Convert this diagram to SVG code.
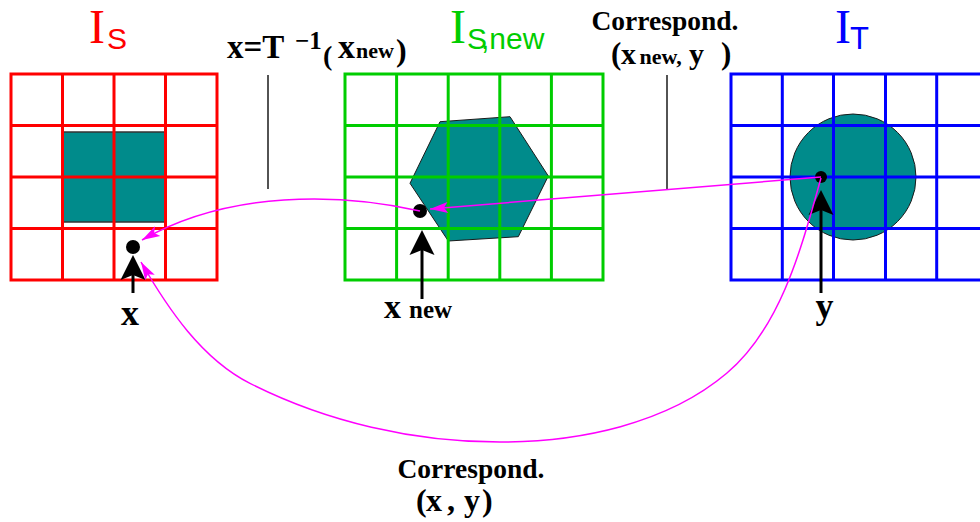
<svg xmlns="http://www.w3.org/2000/svg" width="980" height="522" viewBox="0 0 980 522">
<style>
.bg{fill:#ffffff}
.gr{fill:none;stroke:#ff0000;stroke-width:3}
.gg{fill:none;stroke:#00cd00;stroke-width:3}
.gb{fill:none;stroke:#0000ff;stroke-width:3}
.teal{fill:#008b8b;stroke:#1a1a1a;stroke-width:1}
.dot{fill:#000000}
.blk{stroke:#000000;stroke-width:3;fill:none}
.sep{stroke:#1a1a1a;stroke-width:1.5;fill:none}
.mag{stroke:#ff00ff;stroke-width:1.5;fill:none}
.ser{font-family:"Liberation Serif","Times New Roman",serif;font-weight:bold;fill:#000000}
.titI{font-family:"Liberation Serif","Times New Roman",serif;font-size:48px}
.titS{font-family:"Liberation Sans",Arial,sans-serif;font-size:30px}
</style>
<defs>
<marker id="ah" viewBox="-6 -13 27 26" markerWidth="27" markerHeight="26" refX="0" refY="0" markerUnits="userSpaceOnUse" orient="auto">
<path d="M20,0 L-5,-12.5 L0,0 L-5,12.5 Z" fill="#000000"/>
</marker>
<marker id="am" viewBox="-20 -7 22 14" markerWidth="22" markerHeight="14" refX="0" refY="0" markerUnits="userSpaceOnUse" orient="auto">
<path d="M0,0 L-18,-5.5 L-14,0 L-18,5.5 Z" fill="#ff00ff"/>
</marker>
</defs>
<rect class="bg" x="0" y="0" width="980" height="522"/>

<g id="node-IS">
<rect class="teal" x="63" y="132" width="102" height="90" style="stroke:#333333;stroke-width:1.5"/>
<rect class="gr" x="11" y="74" width="206" height="206"/>
<path class="gr" d="M62.5,74V280M114,74V280M165.5,74V280M11,125.5H217M11,177H217M11,228.5H217"/>
<text class="titI" x="89" y="42.7" fill="#ff0000">I</text>
<text class="titS" x="107" y="49.3" fill="#ff0000">S</text>
</g>

<g id="node-ISnew">
<polygon class="teal" points="440,121.7 510,116.7 548.3,176 518.3,236.7 448.3,241 410,183.3"/>
<rect class="gg" x="345" y="74" width="258" height="206"/>
<path class="gg" d="M396.6,74V280M448.2,74V280M499.8,74V280M551.4,74V280M345,125.5H603M345,177H603M345,228.5H603"/>
<text class="titI" x="450" y="42.7" fill="#00cd00">I</text>
<text class="titS" x="467" y="49.3" fill="#00cd00">S<tspan dx="-6">,new</tspan></text>
</g>

<g id="node-IT">
<circle class="teal" cx="853" cy="177" r="63"/>
<rect class="gb" x="731" y="74" width="257" height="206"/>
<path class="gb" d="M782.3,74V280M833.5,74V280M885.5,74V280M936.7,74V280M731,125.5H988M731,177H988M731,228.5H988"/>
<text class="titI" x="835" y="42.7" fill="#0000ff">I</text>
<text class="titS" x="850" y="49.3" fill="#0000ff" style="font-size:31px">T</text>
</g>

<g id="node-x">
<circle class="dot" cx="133" cy="247" r="7"/>
<line class="blk" x1="133" y1="293" x2="133" y2="275" marker-end="url(#ah)"/>
<text class="ser" x="130" y="325" text-anchor="middle" style="font-size:36px">x</text>
</g>

<g id="node-xnew">
<circle class="dot" cx="420" cy="211" r="7"/>
<line class="blk" x1="422" y1="299" x2="422" y2="250" marker-end="url(#ah)"/>
<text class="ser" y="318.3"><tspan x="384" style="font-size:34px">x</tspan><tspan x="409" style="font-size:25px">new</tspan></text>
</g>

<g id="node-y">
<circle class="dot" cx="821" cy="177" r="6"/>
<line class="blk" x1="821" y1="293" x2="821" y2="210" marker-end="url(#ah)"/>
<text class="ser" x="824.5" y="318.3" text-anchor="middle" style="font-size:36px">y</text>
</g>

<g id="label-transform">
<line class="sep" x1="268" y1="75" x2="268" y2="189"/>
<text class="ser"><tspan x="227" y="58.3" style="font-size:33px">x=T</tspan><tspan x="295" y="49" style="font-size:25px">−1</tspan><tspan x="323" y="65" style="font-size:28px">(</tspan><tspan x="338" y="58.3" style="font-size:34px">x</tspan><tspan x="356" y="58.3" style="font-size:22px">new</tspan><tspan x="396" y="61" style="font-size:32px">)</tspan></text>
</g>

<g id="label-corr-top">
<line class="sep" x1="667" y1="75" x2="667" y2="189"/>
<text class="ser" x="591.5" y="30" style="font-size:27.5px">Correspond.</text>
<text class="ser" y="63.5"><tspan x="611" style="font-size:31px">(</tspan><tspan x="621" style="font-size:30px">x</tspan><tspan x="639.5" style="font-size:22px">new,</tspan><tspan x="689" style="font-size:30px">y</tspan><tspan x="721" style="font-size:31px">)</tspan></text>
</g>

<g id="label-corr-bottom">
<text class="ser" x="397.5" y="478.3" style="font-size:27.5px">Correspond.</text>
<text class="ser" y="511" style="font-size:32px"><tspan x="416">(</tspan><tspan x="426">x</tspan><tspan x="447">,</tspan><tspan x="464">y</tspan><tspan x="482">)</tspan></text>
</g>

<g id="connectors">
<path class="mag" d="M821,177 L430,209" marker-end="url(#am)"/>
<path class="mag" d="M420,211 C340,193 230,190 142,240" marker-end="url(#am)"/>
<path class="mag" d="M821,178 C801.6,247 781.4,327 726.7,373.3 C666.7,424 579,442 500,442 C414,442 326.5,422 250,383.3 C202,359 168,309 141,262" marker-end="url(#am)"/>
</g>
</svg>
